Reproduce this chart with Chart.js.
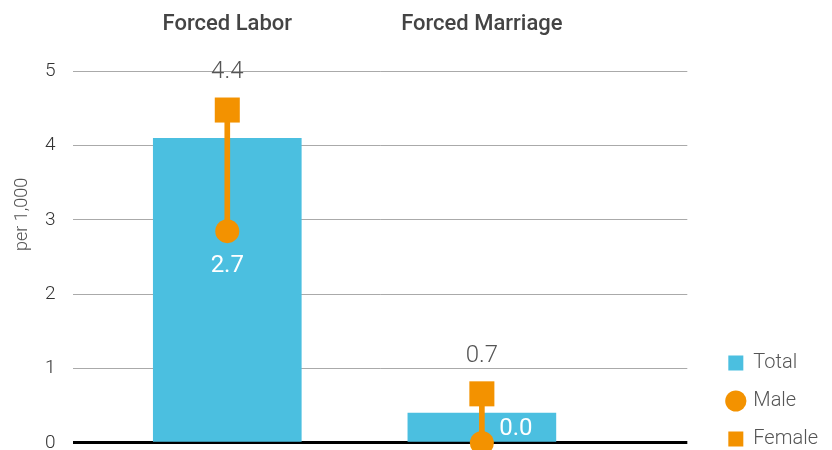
<!DOCTYPE html>
<html>
<head>
<meta charset="utf-8">
<script src="https://cdn.jsdelivr.net/npm/chart.js@4"></script>
<style>
  body { margin: 0; background: #fff; }
</style>
</head>
<body>
<canvas id="chart" width="832" height="450"></canvas>
<script>
// values
const categories = ['Forced Labor', 'Forced Marriage'];
const totalValues = [4.1, 0.4];
const maleValues = [2.85, 0.0];
const femaleValues = [4.48, 0.66];
const maleLabels = ['2.7', '0.0'];
const femaleLabels = ['4.4', '0.7'];

const blue = '#4BBFE0';
const orange = '#F39200';
const catPos = categories.map((c, i) => i);

// printed numbers above/below the markers
const valueLabels = {
  id: 'valueLabels',
  afterDatasetsDraw(chart) {
    const ctx = chart.ctx;
    const area = chart.chartArea;
    const male = chart.getDatasetMeta(2).data;
    const fem = chart.getDatasetMeta(3).data;
    ctx.save();
    ctx.textAlign = 'center';
    ctx.textBaseline = 'middle';
    ctx.font = '300 24px Roboto';
    ctx.fillStyle = '#555';
    fem.forEach((p, i) => ctx.fillText(femaleLabels[i], p.x, p.y - 38));
    ctx.font = '400 24px Roboto';
    ctx.fillStyle = '#fff';
    male.forEach((p, i) => {
      let x = p.x, y = p.y + 35;
      // no room under the marker: put it beside it, inside the bar
      if (y > area.bottom - 10) { x += 34; y = area.bottom - 14; }
      ctx.fillText(maleLabels[i], x, y);
    });
    ctx.restore();
  }
};

// y axis title, sits a bit above the middle in the original
const yTitle = {
  id: 'yTitle',
  afterDraw(chart) {
    const ctx = chart.ctx;
    const area = chart.chartArea;
    ctx.save();
    ctx.translate(area.left - 51, area.top + 143);
    ctx.rotate(-Math.PI / 2);
    ctx.textAlign = 'center';
    ctx.textBaseline = 'middle';
    ctx.font = '300 18px Roboto';
    ctx.fillStyle = '#555';
    ctx.fillText('per 1,000', 0, 0);
    ctx.restore();
  }
};

const chart = new Chart(document.getElementById('chart').getContext('2d'), {
  type: 'bar',
  data: {
    datasets: [
      {
        label: 'Total',
        data: catPos.map(i => ({ x: i, y: totalValues[i] })),
        backgroundColor: blue,
        pointStyle: 'rect',
        barThickness: 148,
        grouped: false,
        order: 4
      },
      {
        label: 'range',
        data: catPos.map(i => ({ x: i, y: [maleValues[i], femaleValues[i]] })),
        backgroundColor: orange,
        barThickness: 5,
        grouped: false,
        borderSkipped: false,
        order: 3
      },
      {
        type: 'line',
        label: 'Male',
        data: catPos.map(i => ({ x: i, y: maleValues[i] })),
        showLine: false,
        pointStyle: 'circle',
        pointRadius: 12,
        pointBackgroundColor: orange,
        pointBorderWidth: 0,
        backgroundColor: orange,
        clip: false,
        order: 2
      },
      {
        type: 'line',
        label: 'Female',
        data: catPos.map(i => ({ x: i, y: femaleValues[i] })),
        showLine: false,
        pointStyle: 'rect',
        pointRadius: 17.7,
        pointBackgroundColor: orange,
        pointBorderWidth: 0,
        backgroundColor: orange,
        clip: false,
        order: 1
      }
    ]
  },
  options: {
    responsive: false,
    animation: false,
    layout: { autoPadding: false, padding: { left: 45, top: -15, bottom: -17, right: 4 } },
    scales: {
      x: {
        type: 'linear',
        position: 'top',
        offset: false,
        min: -0.606,
        max: 1.807,
        grid: { display: false },
        border: { display: false },
        afterBuildTicks: s => { s.ticks = catPos.map(v => ({ value: v })); },
        ticks: {
          autoSkip: false,
          maxRotation: 0,
          padding: 26,
          color: '#444',
          font: { family: 'Roboto', size: 22, weight: 500 },
          callback: v => categories[v] ?? ''
        }
      },
      y: {
        min: 0,
        max: 5,
        afterFit: s => { s.width = 28; },
        ticks: {
          stepSize: 1,
          padding: 0,
          crossAlign: 'far',
          color: '#333',
          font: { family: 'Roboto', size: 19, weight: 300, lineHeight: 0.75 }
        },
        grid: {
          drawTicks: false,
          color: c => c.tick.value === 0 ? '#000' : '#aaa',
          lineWidth: c => c.tick.value === 0 ? 3 : 1
        },
        border: { display: false }
      },
      gap: {
        // empty strip between plot and legend
        position: 'right',
        display: true,
        grid: { display: false },
        border: { display: false },
        ticks: { display: false },
        afterFit: s => { s.width = 23; }
      }
    },
    plugins: {
      tooltip: { enabled: false },
      legend: {
        position: 'right',
        align: 'end',
        labels: {
          usePointStyle: true,
          boxWidth: 15,
          boxHeight: 15,
          padding: 18,
          color: '#555',
          font: { family: 'Roboto', size: 20, weight: 300 },
          filter: item => item.text !== 'range',
          sort: (a, b) => a.datasetIndex - b.datasetIndex
        }
      }
    }
  },
  plugins: [valueLabels, yTitle]
});
</script>
</body>
</html>
